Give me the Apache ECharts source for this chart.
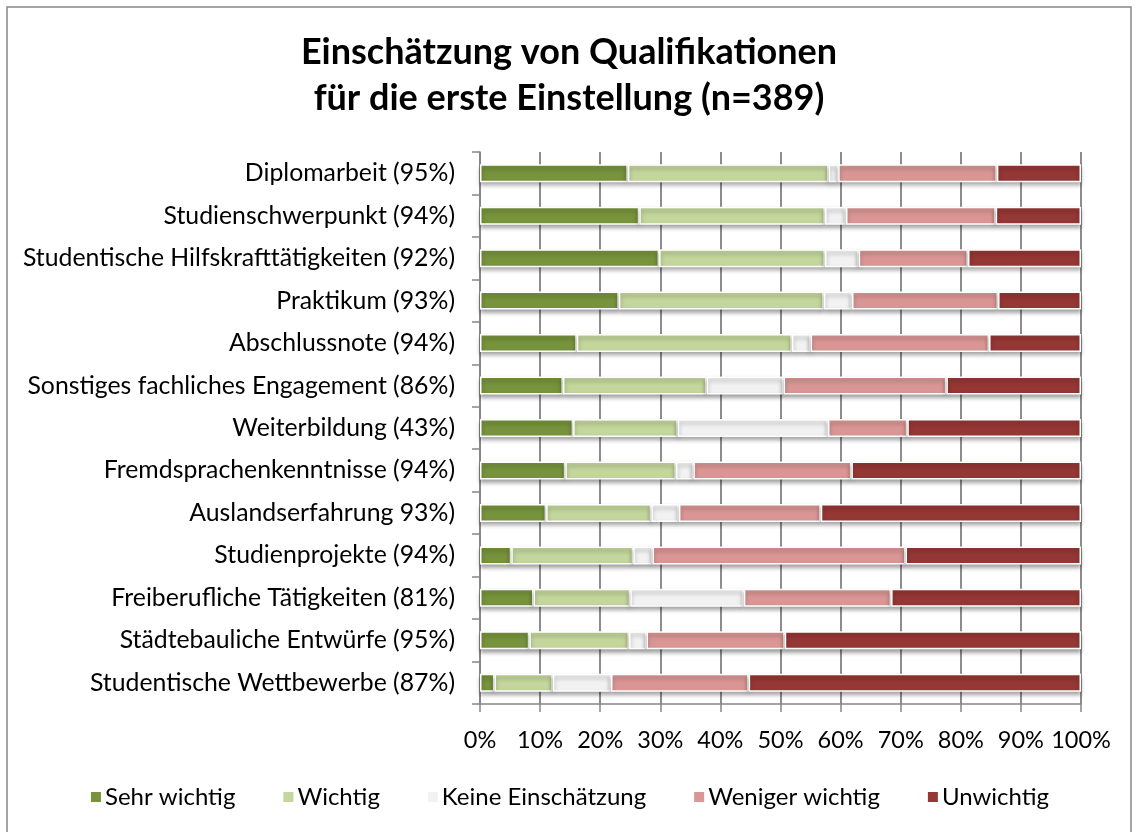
<!DOCTYPE html>
<html>
<head>
<meta charset="utf-8">
<script src="https://cdn.jsdelivr.net/npm/echarts@6/dist/echarts.min.js"></script>
<style>
  html, body { margin: 0; padding: 0; background: #fff; }
  #chart { width: 1138px; height: 832px; }
</style>
</head>
<body>
<div id="chart"></div>
<script>
// Qualifications, top to bottom
const categories = [
  'Diplomarbeit (95%)',
  'Studienschwerpunkt (94%)',
  'Studentische Hilfskrafttätigkeiten (92%)',
  'Praktikum (93%)',
  'Abschlussnote (94%)',
  'Sonstiges fachliches Engagement (86%)',
  'Weiterbildung (43%)',
  'Fremdsprachenkenntnisse (94%)',
  'Auslandserfahrung 93%)',
  'Studienprojekte (94%)',
  'Freiberufliche Tätigkeiten (81%)',
  'Städtebauliche Entwürfe (95%)',
  'Studentische Wettbewerbe (87%)'
];

// Share of answers per rating, in percent
const sehrWichtig     = [24.6, 26.5, 29.8, 23.1, 16.1, 13.8, 15.5, 14.2, 11.0,  5.2,  8.9,  8.2,  2.4];
const wichtig         = [33.4, 30.9, 27.6, 34.1, 35.8, 23.9, 17.4, 18.4, 17.5, 20.3, 16.1, 16.6,  9.7];
const keineEinschaetz = [ 1.6,  3.5,  5.6,  4.7,  3.1, 12.8, 25.0,  2.9,  4.6,  3.2, 18.9,  2.9,  9.7];
const wenigerWichtig  = [26.4, 24.9, 18.2, 24.3, 29.7, 27.1, 13.2, 26.3, 23.6, 42.1, 24.5, 23.0, 22.9];
const unwichtig       = [14.0, 14.2, 18.8, 13.8, 15.3, 22.4, 28.9, 38.2, 43.3, 29.2, 31.6, 49.3, 55.3];

const xTicks = [0, 10, 20, 30, 40, 50, 60, 70, 80, 90, 100];

const seriesDefs = [
  { name: 'Sehr wichtig',       data: sehrWichtig,     color: '#77933C' },
  { name: 'Wichtig',            data: wichtig,         color: '#C3D69B' },
  { name: 'Keine Einschätzung', data: keineEinschaetz, color: '#F2F2F2' },
  { name: 'Weniger wichtig',    data: wenigerWichtig,  color: '#D99694' },
  { name: 'Unwichtig',          data: unwichtig,       color: '#953735' }
];

const FONT = 'Lato';
const chart = echarts.init(document.getElementById('chart'), null, { renderer: 'canvas' });

chart.setOption({
  animation: false,
  backgroundColor: '#ffffff',
  textStyle: { fontFamily: FONT, color: '#000' },
  graphic: [{
    type: 'rect',
    shape: { x: 7, y: 7, width: 1124, height: 840 },
    style: { fill: 'none', stroke: '#868686', lineWidth: 1.5 },
    silent: true,
    z: -10
  }],
  title: {
    text: 'Einschätzung von Qualifikationen\nfür die erste Einstellung (n=389)',
    left: 'center',
    top: 24,
    textStyle: {
      fontFamily: FONT,
      fontSize: 36,
      fontWeight: 'bold',
      color: '#000',
      lineHeight: 46
    }
  },
  legend: {
    bottom: 18,
    left: 'center',
    itemWidth: 12,
    itemHeight: 12,
    itemGap: 46,
    icon: 'rect',
    textStyle: { fontFamily: FONT, fontSize: 24, color: '#000', padding: [0, 0, 0, -2] },
    data: seriesDefs.map(s => s.name)
  },
  grid: {
    left: 480,
    right: 57,
    top: 152,
    bottom: 128,
    containLabel: false
  },
  xAxis: {
    type: 'value',
    min: 0,
    max: 100,
    interval: 10,
    axisLine: { show: true, lineStyle: { color: '#868686', width: 1.5 } },
    axisTick: { show: true, length: 8, lineStyle: { color: '#868686', width: 1.5 } },
    splitLine: { show: true, lineStyle: { color: '#808080', width: 1.8 } },
    axisLabel: {
      margin: 24,
      fontFamily: FONT,
      fontSize: 23.5,
      color: '#000',
      formatter: v => (xTicks.includes(v) ? v + '%' : '')
    }
  },
  yAxis: {
    type: 'category',
    inverse: true,
    data: categories,
    axisLine: { show: true, lineStyle: { color: '#868686', width: 1.5 } },
    axisTick: { show: true, length: 8, lineStyle: { color: '#868686', width: 1.5 } },
    axisLabel: {
      margin: 25,
      fontFamily: FONT,
      fontSize: 24.8,
      color: '#000'
    }
  },
  series: seriesDefs.map(s => ({
    name: s.name,
    type: 'bar',
    stack: 'total',
    barWidth: 18,
    data: s.data,
    itemStyle: {
      color: s.color,
      borderColor: '#ffffff',
      borderWidth: 1.5,
      shadowColor: 'rgba(0,0,0,0.35)',
      shadowBlur: 4,
      shadowOffsetY: 3
    }
  }))
});
</script>
</body>
</html>
